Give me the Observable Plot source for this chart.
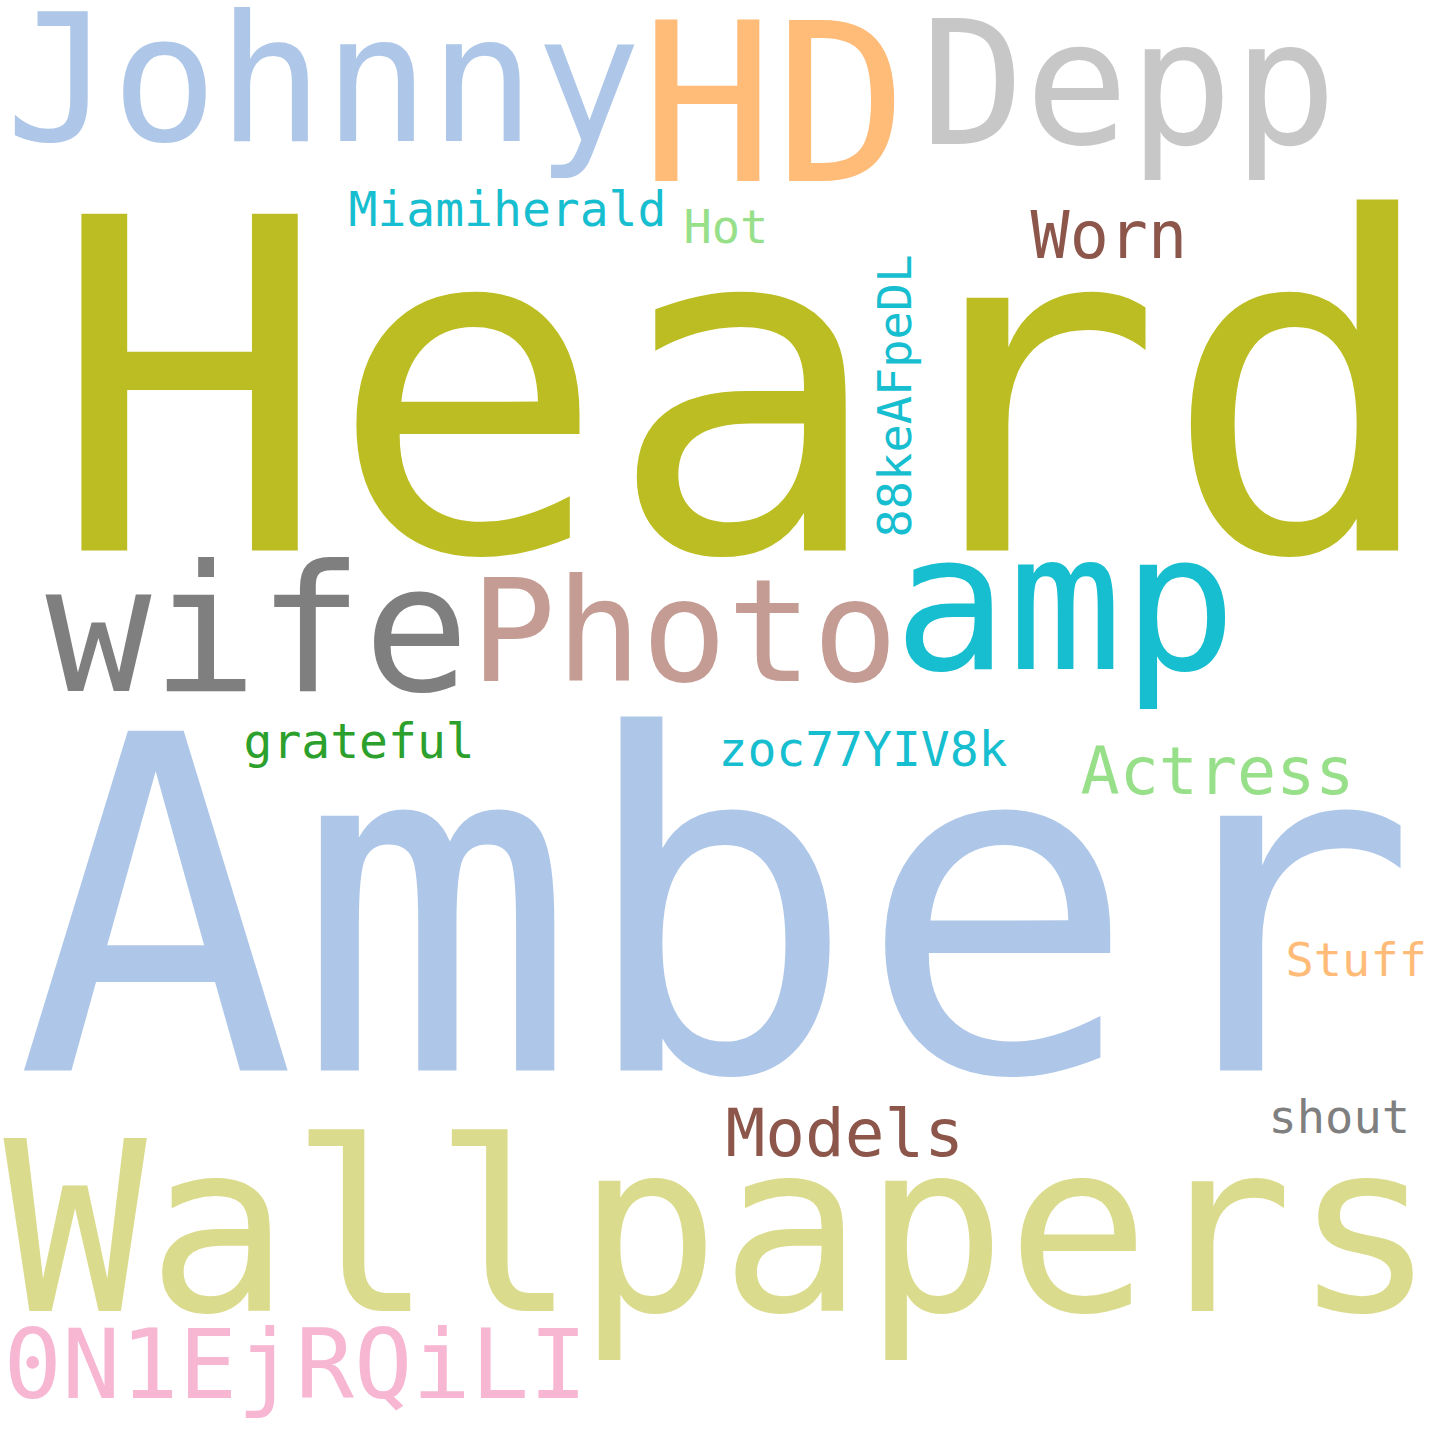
<!DOCTYPE html>
<html>
<head>
<meta charset="utf-8">
<script src="https://cdn.jsdelivr.net/npm/d3@7"></script>
<script src="https://cdn.jsdelivr.net/npm/@observablehq/plot@0.6"></script>
<style>body{margin:0;background:#fff}</style>
</head>
<body>
<div id="chart"></div>
<script>
// word cloud: word, left x, baseline y, font size, colour, rotation
const words  = ["Heard","Amber","Wallpapers","Johnny","HD","Depp","wife","Photo","amp","Miamiherald","Hot","Worn","88keAFpeDL","grateful","zoc77YIV8k","Actress","Stuff","Models","shout","0N1EjRQiLI"];
const xs     = [50, 15, 3, 5, 640, 920, 45, 470, 893, 348, 683, 1030, 910, 243, 718, 1080, 1285, 725, 1268, 3];
const ys     = [550, 1070, 1310, 140, 180, 143, 690, 680, 668, 225, 242, 257, 537, 757, 765, 793, 975, 1155, 1132, 1397];
const sizes  = [462, 466, 238, 176, 222, 173, 176, 142, 190, 48, 47, 65, 47, 48, 48, 65, 47, 66, 47, 97];
const colors = ["#bcbd22","#aec7e8","#dbdb8d","#aec7e8","#ffbb78","#c7c7c7","#7f7f7f","#c49c94","#17becf","#17becf","#98df8a","#8c564b","#17becf","#2ca02c","#17becf","#98df8a","#ffbb78","#8c564b","#7f7f7f","#f7b6d2"];
const rotations = [0,0,0,0,0,0,0,0,0,0,0,0,-90,0,0,0,0,0,0,0];

const data = words.map((w, i) => ({word: w, x: xs[i], y: ys[i], size: sizes[i], color: colors[i], rotate: rotations[i]}));

const marks = data.map(d => Plot.text([d], {
  x: "x", y: "y", text: "word",
  fontSize: d.size, fill: d.color, rotate: d.rotate,
  textAnchor: "start", lineAnchor: "bottom",
  fontFamily: "DejaVu Sans Mono"
}));

const chart = Plot.plot({
  width: 1440, height: 1440,
  margin: 0,
  x: {domain: [0, 1440], range: [0, 1440], axis: null},
  y: {domain: [0, 1440], range: [0, 1440], axis: null},
  style: {background: "#fff"},
  marks
});
chart.querySelectorAll("text").forEach(t => t.setAttribute("dominant-baseline", "alphabetic"));
d3.select("#chart").append(() => chart);
</script>
</body>
</html>
